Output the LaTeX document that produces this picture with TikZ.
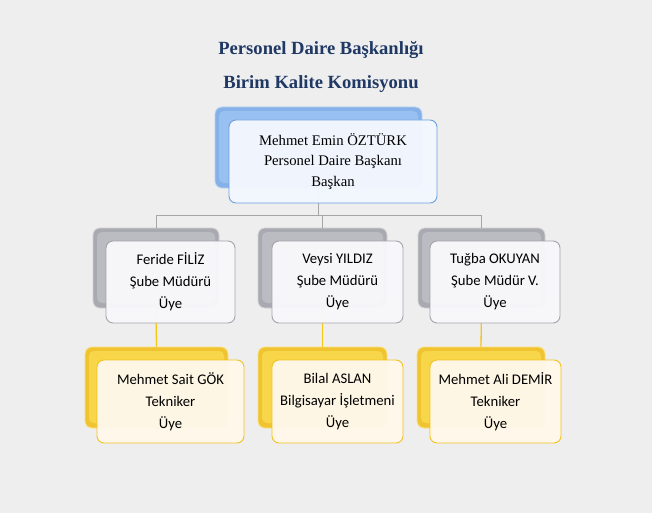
\documentclass[tikz,border=0pt]{standalone}
\usepackage{fontspec}
\setmainfont{Liberation Serif}
\newfontfamily\calfont{Carlito}
\definecolor{bgc}{HTML}{EEEEEE}
\definecolor{titlec}{HTML}{1F3864}
\definecolor{lnc}{HTML}{A6A6A6}
\definecolor{ylnc}{HTML}{F5C518}
\definecolor{blueout}{HTML}{86B0E8}
\definecolor{bluein}{HTML}{98C0F0}
\definecolor{grayout}{HTML}{A9A9B1}
\definecolor{grayin}{HTML}{BBBBC2}
\definecolor{yelout}{HTML}{F0C430}
\definecolor{yelin}{HTML}{F8D64A}
\definecolor{bluefr}{HTML}{F3F7FE}
\definecolor{bluebd}{HTML}{6C9FE0}
\definecolor{grayfr}{HTML}{F8F8FB}
\definecolor{graybd}{HTML}{A3A3AB}
\definecolor{yelfr}{HTML}{FFF8EA}
\definecolor{yelbd}{HTML}{F2C220}
\tikzset{
  backbox/.style={rounded corners=7pt, inner sep=0pt},
  inset/.style={path picture={\fill[#1, rounded corners=5pt]
     ([xshift=4pt,yshift=-4pt]path picture bounding box.north west) rectangle
     ([xshift=-4pt,yshift=5pt]path picture bounding box.south east);}},
  grayback/.style={backbox, fill=grayout, draw=black!18, line width=0.8pt, inset=grayin},
  blueback/.style={backbox, fill=blueout, draw=bluein!70!white, line width=0.8pt, inset=bluein},
  yellowback/.style={backbox, fill=yelout, draw=yelin!70!white, line width=0.8pt, inset=yelin},
  frontbox/.style={rounded corners=7pt, inner sep=0pt, line width=0.9pt, align=center, fill opacity=0.97, text opacity=1},
  grayfront/.style={frontbox, draw=graybd, fill=grayfr, font=\calfont\fontsize{14.7}{22}\selectfont},
  bluefront/.style={frontbox, draw=bluebd, fill=bluefr, font=\fontsize{14.7}{20.5}\selectfont},
  yellowfront/.style={frontbox, draw=yelbd, fill=yelfr, font=\calfont\fontsize{14.7}{22}\selectfont},
  conn/.style={draw=lnc, line width=1pt},
  yconn/.style={draw=ylnc, line width=1.3pt},
  titletext/.style={font=\bfseries\fontsize{18.6}{20}\selectfont, text=titlec}
}
\begin{document}
\begin{tikzpicture}[x=1pt,y=-1pt]
\fill[bgc] (0,0) rectangle (652,513);
\useasboundingbox (0,0) rectangle (652,513);
\node[titletext] (t1) at (321,50) {Personel Daire Başkanlığı};
\node[titletext] (t2) at (321,84) {Birim Kalite Komisyonu};
% back boxes
\node[blueback, minimum width=207, minimum height=81] (tb) at (318.5,147.5) {};
\node[grayback, minimum width=126, minimum height=80] (g1) at (156,268) {};
\node[grayback, minimum width=129, minimum height=80] (g2) at (322.5,268) {};
\node[grayback, minimum width=127, minimum height=80] (g3) at (481.5,268) {};
\node[yellowback, minimum width=143, minimum height=81] (y1) at (156.5,387.5) {};
\node[yellowback, minimum width=129, minimum height=81] (y2) at (322.5,387.5) {};
\node[yellowback, minimum width=128, minimum height=81] (y3) at (481,387.5) {};
% connectors
\coordinate (bus) at (0,215);
\draw[conn] (tb.south) -- (tb.south |- bus);
\draw[conn] (g1.north) -- (g1.north |- bus) -- (g3.north |- bus) -- (g3.north);
\draw[conn] (g2.north) -- (g2.north |- bus);
\draw[yconn] (g1.south) -- (y1.north);
\draw[yconn] (g2.south) -- (y2.north);
\draw[yconn] (g3.south) -- (y3.north);
% front boxes
\node[bluefront, minimum width=208, minimum height=83] (tf) at (333,161.5) {Mehmet Emin ÖZTÜRK\\Personel Daire Başkanı\\Başkan};
\node[grayfront, minimum width=129, minimum height=82] (gf1) at (170.5,282) {Feride FİLİZ\\Şube Müdürü\\Üye};
\node[grayfront, minimum width=131, minimum height=82] (gf2) at (337.5,282) {Veysi YILDIZ\\Şube Müdürü\\Üye};
\node[grayfront, minimum width=130, minimum height=82] (gf3) at (495,282) {Tuğba OKUYAN\\Şube Müdür V.\\Üye};
\node[yellowfront, minimum width=147, minimum height=83] (yf1) at (170.5,401.5) {Mehmet Sait GÖK\\Tekniker\\Üye};
\node[yellowfront, minimum width=131, minimum height=83] (yf2) at (337.5,401.5) {Bilal ASLAN\\Bilgisayar İşletmeni\\Üye};
\node[yellowfront, minimum width=131, minimum height=83] (yf3) at (495.5,401.5) {Mehmet Ali DEMİR\\Tekniker\\Üye};
\end{tikzpicture}
\end{document}
